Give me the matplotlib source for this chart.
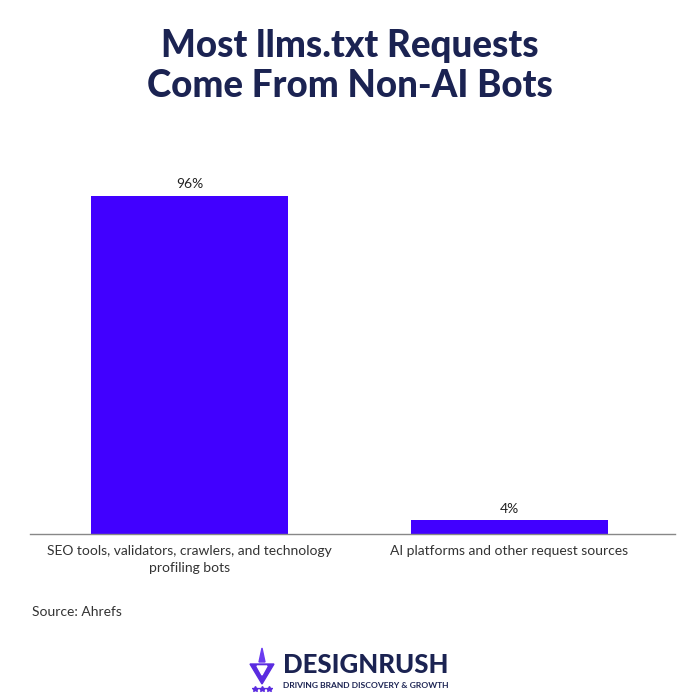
import matplotlib
matplotlib.use("Agg")
import matplotlib.pyplot as plt
from matplotlib.patches import Polygon

categories = ["SEO tools, validators, crawlers, and technology\nprofiling bots",
              "AI platforms and other request sources"]
values = [96, 4]
value_labels = ["96%", "4%"]

title = "Most llms.txt Requests\nCome From Non-AI Bots"
source = "Source: Ahrefs"

BAR = "#4100FF"
NAVY = "#1B2352"
TXT = "#333333"

plt.rcParams['font.family'] = ['Lato', 'DejaVu Sans']

fig = plt.figure(figsize=(7, 7), dpi=100)
fig.patch.set_facecolor("white")
ax = fig.add_axes([30/700, 166/700, 645/700, 370/700])

x = list(range(len(categories)))
bars = ax.bar(x, values, width=0.615, color=BAR, zorder=2)
for b, lab in zip(bars, value_labels):
    ax.text(b.get_x() + b.get_width()/2, b.get_height() + 1.5, lab,
            ha="center", va="bottom", fontsize=10, color="#222222")

ax.set_xlim(-0.498, 1.517)
ax.set_ylim(0, 105)
ax.set_yticks([])
ax.set_xticks(x)
ax.set_xticklabels(categories, fontsize=10, color=TXT, linespacing=1.45)
ax.tick_params(axis="x", length=0, pad=8)
for s in ["top", "right", "left"]:
    ax.spines[s].set_visible(False)
ax.spines["bottom"].set_color("#888888")
ax.spines["bottom"].set_linewidth(1.0)

fig.text(0.5, 1 - 66/700, title, ha="center", va="center", fontsize=26.5,
         fontweight="black", color=NAVY, linespacing=1.24)
fig.text(32/700, 1 - 612/700, source, ha="left", va="center", fontsize=10, color=TXT)

# logo
fig.text(283/700, 1 - 665/700, "DESIGNRUSH", ha="left", va="center", fontsize=18.5,
         fontweight="black", color=NAVY)
fig.text(283/700, 1 - 686/700, "DRIVING BRAND DISCOVERY & GROWTH", ha="left", va="center",
         fontsize=6.1, fontweight="bold", color=NAVY)
lax = fig.add_axes([248/700, 1 - 692/700, 28/700, 46/700])
lax.set_xlim(0, 28); lax.set_ylim(0, 46); lax.axis("off")
lax.add_patch(Polygon([[2, 28], [26, 28], [14, 8]], closed=True, color="#5A2BE0"))
lax.add_patch(Polygon([[9, 26], [19, 26], [14, 17]], closed=True, color="white"))
lax.add_patch(Polygon([[11, 30], [14, 44], [17, 30]], closed=True, color="#6A3BF0"))
for cx in [7, 14, 21]:
    lax.plot(cx, 3, marker="*", color="#5A2BE0", markersize=4)

fig.savefig("out.png", dpi=100, facecolor="white")
